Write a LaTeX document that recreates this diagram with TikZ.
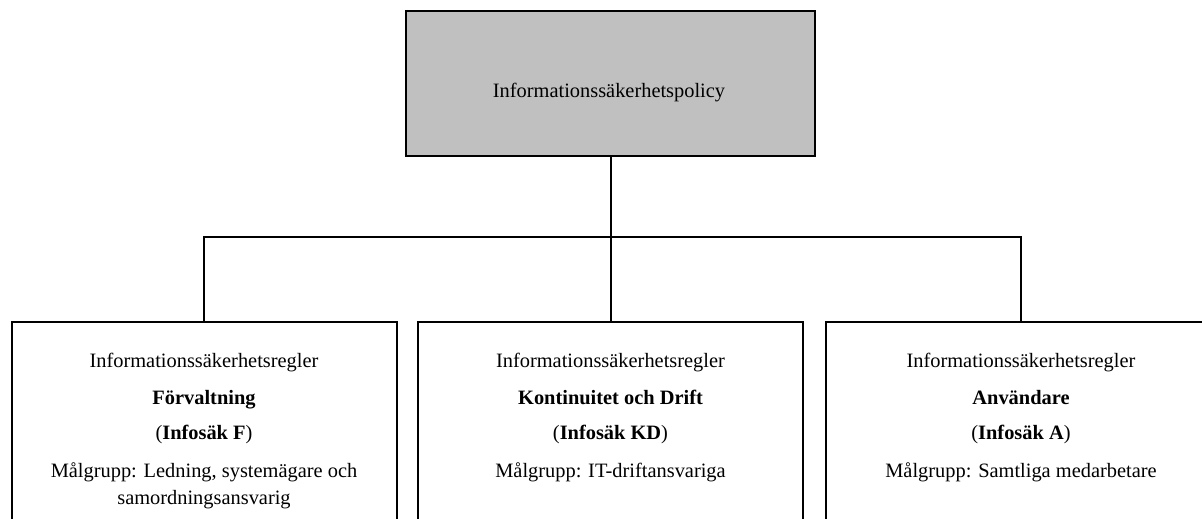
\documentclass[tikz,border=0pt]{standalone}
\usepackage{fontspec}
\setmainfont{Liberation Serif}
\begin{document}
\begin{tikzpicture}[x=1pt,y=-1pt,
  box/.style={draw=black,line width=2pt,inner sep=0pt},
  topbox/.style={box,fill=policygray},
  txt/.style={anchor=base,inner sep=0pt,font=\fontsize{20.4}{26}\selectfont},
  btxt/.style={txt,font=\fontsize{20.4}{26}\selectfont\bfseries},
  conn/.style={line width=2pt}]
\definecolor{policygray}{HTML}{C0C0C0}
\useasboundingbox (0,0) rectangle (1202,519);
% top box
\node[topbox,minimum width=409pt,minimum height=145pt] (top) at (610.5,83.5) {};
\node[txt] (toptxt) at (609,97) {Informationssäkerhetspolicy};
% bottom boxes (extend past the lower edge)
\node[box,minimum width=385pt,minimum height=220pt,anchor=north] (boxF) at (204,321) {};
\node[box,minimum width=385pt,minimum height=220pt,anchor=north] (boxKD) at (610.5,321) {};
\node[box,minimum width=420pt,minimum height=220pt,anchor=north] (boxA) at (1036,321) {};
\coordinate (dropA) at (1021,321);
% texts F
\node[txt] (f1) at (204,367) {Informationssäkerhetsregler};
\node[btxt] (f2) at (204,404) {Förvaltning};
\node[txt] (f3) at (204,439) {(\textbf{Infosäk F})};
\node[txt] (f4) at (204,477) {Målgrupp: Ledning, systemägare och};
\node[txt] (f5) at (204,504) {samordningsansvarig};
% texts KD
\node[txt] (k1) at (610.5,367) {Informationssäkerhetsregler};
\node[btxt] (k2) at (610.5,404) {Kontinuitet och Drift};
\node[txt] (k3) at (610.5,439) {(\textbf{Infosäk KD})};
\node[txt] (k4) at (610.5,477) {Målgrupp: IT-driftansvariga};
% texts A
\node[txt] (a1) at (1021,367) {Informationssäkerhetsregler};
\node[btxt] (a2) at (1021,404) {Användare};
\node[txt] (a3) at (1021,439) {(\textbf{Infosäk A})};
\node[txt] (a4) at (1021,477) {Målgrupp: Samtliga medarbetare};
% connectors
\coordinate (bus) at (610.5,237);
\draw[conn] (top.south) -- (bus);
\draw[conn] (boxF.north) |- (bus) -| (dropA);
\draw[conn] (bus) -- (boxKD.north);
\end{tikzpicture}
\end{document}
